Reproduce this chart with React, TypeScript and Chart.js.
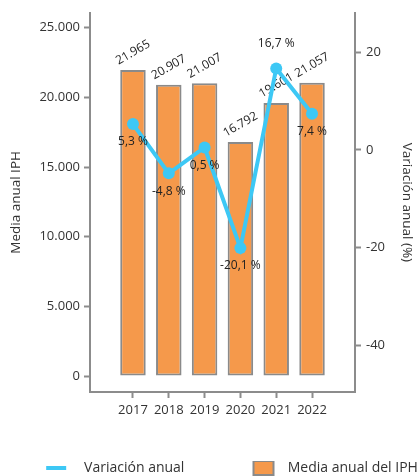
import React, { useEffect, useRef } from 'react';
import { Chart, registerables } from 'chart.js';

Chart.register(...registerables);

// ---- data ----
const years = [2017, 2018, 2019, 2020, 2021, 2022];
const mediaIPH = [21965, 20907, 21007, 16792, 19601, 21057];
const variacion = [5.3, -4.8, 0.5, -20.1, 16.7, 7.4];
const variacionLabelSide = ['below', 'below', 'below', 'below', 'above', 'below'];
const leftTicks = [0, 5000, 10000, 15000, 20000, 25000];
const rightTicks = [-40, -20, 0, 20];
const legendLabels = ['Variación anual', 'Media anual del IPH'];
const leftTitle = 'Media anual IPH';
const rightTitle = 'Variación anual (%)';

// ---- style ----
const FONT = "'Open Sans', 'Noto Sans', sans-serif";
const ORANGE = '#F5994B';
const BAR_BORDER = '#8A8A8A';
const BLUE = '#3DC8F5';
const AXIS = '#8C8C8C';
const TEXT = '#333333';
const LABEL = '#222222';

const fmtThousands = (v: number) =>
  String(Math.round(v)).replace(/\B(?=(\d{3})+(?!\d))/g, '.');
const fmtPct = (v: number) => v.toFixed(1).replace('.', ',') + ' %';

const labelPlugin = {
  id: 'valueLabels',
  afterDatasetDraw(chart: any, args: any) {
    const ctx = chart.ctx;
    ctx.save();
    ctx.font = `12px ${FONT}`;
    ctx.fillStyle = LABEL;
    ctx.textAlign = 'center';
    ctx.textBaseline = 'middle';
    if (args.index === 1) {
      const meta = chart.getDatasetMeta(1);
      meta.data.forEach((el: any, i: number) => {
        ctx.save();
        ctx.translate(el.x, el.y - 17.5);
        ctx.rotate(-Math.PI / 6);
        ctx.fillText(fmtThousands(mediaIPH[i]), 0, 0);
        ctx.restore();
      });
    } else if (args.index === 0) {
      const meta = chart.getDatasetMeta(0);
      meta.data.forEach((el: any, i: number) => {
        const dy = variacionLabelSide[i] === 'above' ? -25 : 18;
        ctx.fillText(fmtPct(variacion[i]), el.x, el.y + dy);
      });
    }
    ctx.restore();
  },
};

// pad a legend text with spaces so the legend item occupies a target width
const padTo = (ctx: any, lead: string, text: string, target: number) => {
  const spaceW = ctx.measureText(' ').width || 3.6;
  let t = lead + text;
  const w = ctx.measureText(t).width;
  const n = Math.max(0, Math.round((target - 27 - w) / spaceW));
  return t + ' '.repeat(n);
};

export default function App() {
  const ref = useRef<HTMLCanvasElement | null>(null);

  useEffect(() => {
    if (!ref.current) return;
    const chart = new Chart(ref.current, {
      type: 'bar',
      data: {
        datasets: [
          {
            type: 'line',
            label: legendLabels[0],
            data: years.map((x, i) => ({ x, y: variacion[i] })),
            yAxisID: 'y1',
            borderColor: BLUE,
            backgroundColor: BLUE,
            borderWidth: 4,
            pointRadius: 6,
            pointBackgroundColor: BLUE,
            pointBorderWidth: 0,
            order: 0,
          } as any,
          {
            type: 'bar',
            label: legendLabels[1],
            data: years.map((x, i) => ({ x, y: mediaIPH[i] })),
            yAxisID: 'y',
            backgroundColor: ORANGE,
            borderColor: BAR_BORDER,
            borderWidth: 2,
            borderSkipped: false,
            categoryPercentage: 0.8,
            barPercentage: 0.89,
            order: 1,
          } as any,
        ],
      },
      options: {
        responsive: false,
        animation: false,
        events: [],
        layout: { padding: { left: 0, right: -56, top: 10, bottom: -9 }, autoPadding: false },
        scales: {
          x: {
            type: 'linear',
            min: 2015.8,
            max: 2023.2,
            offset: false,
            afterBuildTicks: (s: any) => {
              s.ticks = years.map((v) => ({ value: v }));
            },
            afterFit: (s: any) => {
              s.height = 69;
            },
            grid: {
              display: true,
              drawOnChartArea: false,
              drawTicks: true,
              tickLength: 6,
              tickWidth: 2,
              tickColor: AXIS,
              offset: false,
            },
            border: { display: true, color: AXIS, width: 2 },
            ticks: {
              color: TEXT,
              font: { family: FONT, size: 13 },
              padding: 4,
              autoSkip: false,
              maxRotation: 0,
              callback: (v: any) => String(v),
            },
          },
          y: {
            type: 'linear',
            position: 'left',
            min: -1140,
            max: 26068,
            afterBuildTicks: (s: any) => {
              s.ticks = leftTicks.map((v) => ({ value: v }));
            },
            afterFit: (s: any) => {
              s.width = 90;
            },
            grid: {
              display: true,
              drawOnChartArea: false,
              drawTicks: true,
              tickLength: 6,
              tickWidth: 2,
              tickColor: AXIS,
            },
            border: { display: true, color: AXIS, width: 2 },
            ticks: {
              color: TEXT,
              font: { family: FONT, size: 13 },
              padding: 4,
              callback: (v: any) => fmtThousands(Number(v)),
            },
            title: {
              display: true,
              text: leftTitle,
              color: TEXT,
              font: { family: FONT, size: 13.5 },
              padding: { top: 8, bottom: 0 },
            },
          },
          y1: {
            type: 'linear',
            position: 'right',
            min: -49.6,
            max: 28.1,
            afterBuildTicks: (s: any) => {
              s.ticks = rightTicks.map((v) => ({ value: v }));
            },
            afterFit: (s: any) => {
              s.width = 120;
            },
            grid: {
              display: true,
              drawOnChartArea: false,
              drawTicks: true,
              tickLength: 6,
              tickWidth: 2,
              tickColor: AXIS,
            },
            border: { display: true, color: AXIS, width: 2 },
            ticks: {
              color: TEXT,
              font: { family: FONT, size: 13 },
              padding: 5,
              callback: (v: any) => String(v),
            },
            title: {
              display: true,
              text: rightTitle,
              color: TEXT,
              font: { family: FONT, size: 13.5 },
              padding: { top: 60, bottom: 0 },
            },
          },
        },
        plugins: {
          tooltip: { enabled: false },
          legend: {
            position: 'bottom',
            align: 'center',
            labels: {
              usePointStyle: true,
              pointStyleWidth: 20,
              boxHeight: 14,
              padding: 0,
              color: TEXT,
              font: { family: FONT, size: 14 },
              generateLabels: (c: any) => {
                const ctx = c.ctx;
                ctx.save();
                ctx.font = `14px ${FONT}`;
                const t1 = padTo(ctx, '   ', legendLabels[0], 206);
                const t2 = padTo(ctx, '  ', legendLabels[1], 175);
                ctx.restore();
                return [
                  {
                    text: t1,
                    pointStyle: 'line',
                    strokeStyle: BLUE,
                    fillStyle: BLUE,
                    lineWidth: 4,
                    hidden: false,
                    datasetIndex: 0,
                    fontColor: TEXT,
                  },
                  {
                    text: t2,
                    pointStyle: 'rect',
                    fillStyle: ORANGE,
                    strokeStyle: BAR_BORDER,
                    lineWidth: 2,
                    hidden: false,
                    datasetIndex: 1,
                    fontColor: TEXT,
                  },
                ];
              },
            },
          },
        },
      } as any,
      plugins: [labelPlugin],
    });
    return () => chart.destroy();
  }, []);

  return (
    <div style={{ position: 'absolute', left: 0, top: 0, width: 419, height: 476, overflow: 'hidden' }}>
      <canvas ref={ref} width={419} height={476} style={{ display: 'block' }} />
    </div>
  );
}
